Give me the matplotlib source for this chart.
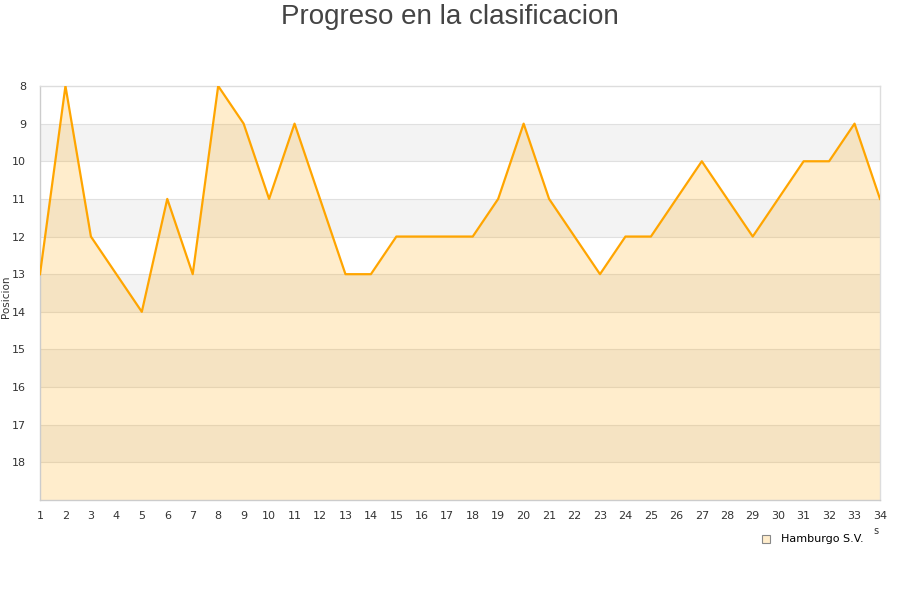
import numpy as np
import matplotlib.pyplot as plt

jornadas = list(range(1, 35))
posicion = [13, 8, 12, 13, 14, 11, 13, 8, 9, 11, 9, 11, 13, 13, 12, 12, 12, 12,
            11, 9, 11, 12, 13, 12, 12, 11, 10, 11, 12, 11, 10, 10, 9, 11]
equipo = 'Hamburgo S.V.'

fig = plt.figure(figsize=(9, 6), dpi=100)
ax = fig.add_axes([40/900, 100/600, 840/900, 414/600])

# alternating bands
for k in range(8, 19):
    if k % 2 == 1:
        ax.axhspan(k, k + 1, color='#f3f3f3', zorder=0, lw=0)
for k in range(9, 19):
    ax.axhline(k, color='#e0e0e0', lw=0.8, zorder=1)

ax.fill_between(jornadas, posicion, 19, color='#ffa500', alpha=0.2, lw=0, zorder=2)
ax.plot(jornadas, posicion, color='#ffa500', lw=1.6, zorder=3)

ax.set_xlim(1, 34)
ax.set_ylim(19, 8)
ax.set_xticks(jornadas)
ax.set_yticks(range(8, 19))
ax.tick_params(length=0, labelsize=8, colors='#333333')
ax.tick_params(axis='x', pad=8)
ax.tick_params(axis='y', pad=10)
for s in ax.spines.values():
    s.set_color('#dddddd')
    s.set_linewidth(1)
ax.spines['left'].set_color('#cccccc')
ax.spines['bottom'].set_color('#cccccc')

ax.set_ylabel('Posicion', fontsize=7.5, color='#333333')
ax.yaxis.set_label_coords(-29/840, 0.49)
fig.text(0.5, 1 - 17/600, 'Progreso en la clasificacion', ha='center', va='center',
         fontsize=20, color='#444444', family='Liberation Sans')

fig.patches.append(plt.Rectangle((762/900, 1 - 543/600), 8/900, 8/600,
                                 transform=fig.transFigure, facecolor='#ffedcc',
                                 edgecolor='#888888', lw=0.8))
fig.text(781/900, 1 - 539/600, equipo, fontsize=8, va='center', color='#000000')
fig.text(876/900, 1 - 531/600, 's', fontsize=7, ha='center', va='center', color='#333333')

fig.savefig('out.png', dpi=100)
